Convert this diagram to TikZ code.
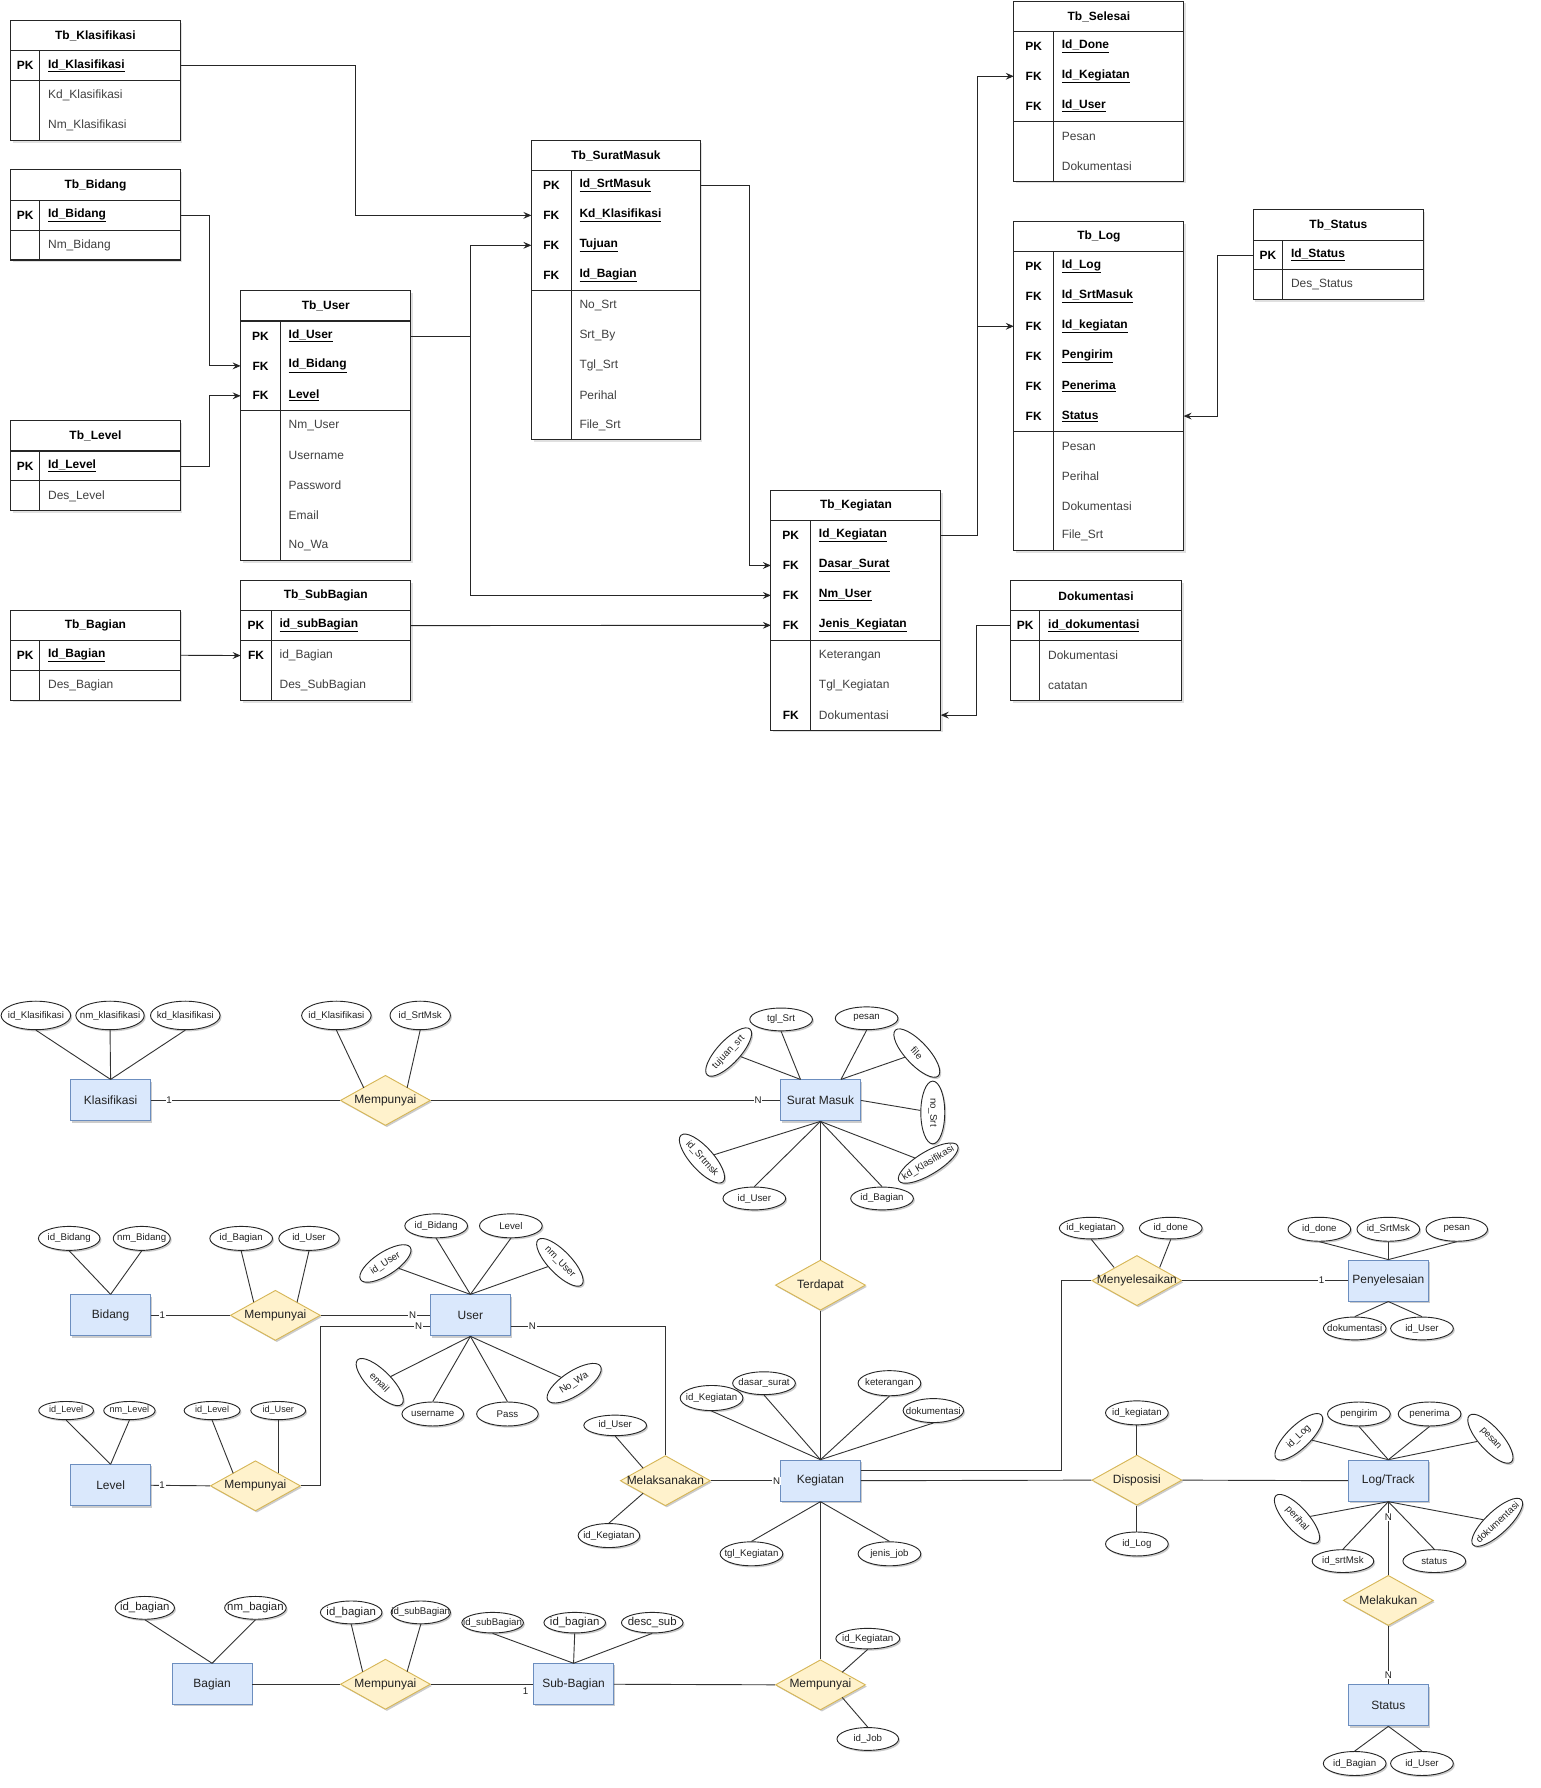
\documentclass[tikz,border=0pt]{standalone}
\usepackage{fontspec}
\setmainfont{Liberation Sans}
\usetikzlibrary{shapes.geometric,arrows.meta,calc,shadows}

\definecolor{entf}{HTML}{DAE8FC}
\definecolor{entb}{HTML}{6C8EBF}
\definecolor{relf}{HTML}{FFF2CC}
\definecolor{relb}{HTML}{D6B656}
\definecolor{txt}{HTML}{222222}

\newcommand{\setfs}[1]{\fontsize{#1}{#1}\selectfont}
\newcommand{\keyfield}[1]{\color{black}\textbf{\underline{#1}}}
\newcommand{\midtext}[1]{\makebox[0pt]{#1}}
\def\tbhead{26.5}
\def\tbrowh{26.25}

% database table: id, left, top, width, key column width, title, key rows, total rows, rows
% every row i gets the edge points (id-i-l) and (id-i-r) for the references
\newcommand{\dbtable}[9]{%
  \pgfmathsetmacro{\tbbot}{#3+\tbhead+#8*\tbrowh}%
  \pgfmathsetmacro{\tbsep}{#3+\tbhead+#7*\tbrowh}%
  \fill[black,opacity=0.12] (#2+2,#3+2) rectangle (#2+#4+2,\tbbot+2);
  \fill[white] (#2,#3) rectangle (#2+#4,\tbbot);
  \node[tbtitle, minimum width=#4, minimum height=\tbhead, anchor=north west] (#1) at (#2,#3) {#6};
  \foreach[count=\i] \tkey/\tfield in {#9}{
    \pgfmathsetmacro{\ry}{#3+\tbhead+(\i-0.5)*\tbrowh}
    \coordinate (#1-\i-l) at (#2,\ry);
    \coordinate (#1-\i-r) at (#2+#4,\ry);
    \node[tbkey] at (#2+#5/2,\ry) {\tkey};
    \node[tbfield, anchor=west] at (#2+#5+7,\ry) {\tfield};
  }
  \draw[tbline] (#2,#3) rectangle (#2+#4,\tbbot);
  \draw[tbline] (#2,#3+\tbhead) -- (#2+#4,#3+\tbhead);
  \draw[tbline] (#2,\tbsep) -- (#2+#4,\tbsep);
  \draw[tbline] (#2+#5,#3+\tbhead) -- (#2+#5,\tbbot);
}

\tikzset{
  tbline/.style={draw=black!85, line width=0.9pt},
  tbtitle/.style={inner sep=0, font=\setfs{10.5}\bfseries, text=black},
  tbkey/.style={inner sep=0, font=\setfs{10.5}\bfseries, text=black},
  tbfield/.style={inner sep=0, font=\setfs{10.5}, text=black!75},
  fkline/.style={draw=black!85, line width=0.8pt},
  fkarrow/.style={fkline, -{Stealth[length=7pt,width=6pt,inset=2.5pt]}},
  softshadow/.style={drop shadow={shadow xshift=1.3pt, shadow yshift=-1.5pt, opacity=0.2, fill=black}},
  ent/.style={rectangle, draw=entb, fill=entf, line width=0.8pt, minimum width=70pt, minimum height=36pt,
    inner sep=0, font=\setfs{10.5}, text=txt, softshadow},
  rel/.style={diamond, draw=relb, fill=relf, line width=0.8pt, minimum width=79pt, minimum height=44pt,
    inner sep=0, font=\setfs{10.5}, text=txt, softshadow},
  attr/.style={ellipse, draw=black!85, fill=white, line width=0.8pt, minimum width=55pt, minimum height=21pt,
    inner sep=0, font=\setfs{8.5}, text=txt, softshadow},
  er/.style={draw=black!80, line width=0.8pt},
  card/.style={fill=white, inner sep=0.6pt, font=\setfs{8.5}, text=txt},
}

\begin{document}
\begin{tikzpicture}[x=1pt, y=-1pt]
\fill[white] (0,0) rectangle (1351,1568);
\useasboundingbox (0,0) rectangle (1351,1568);

% ---------------- relational schema ----------------
\dbtable{klas}{9}{18}{149}{26}{Tb\_Klasifikasi}{1}{3}{PK/\keyfield{Id\_Klasifikasi}, {}/Kd\_Klasifikasi, {}/Nm\_Klasifikasi}
\dbtable{bid}{9}{149}{149}{26}{Tb\_Bidang}{1}{2}{PK/\keyfield{Id\_Bidang}, {}/Nm\_Bidang}
\dbtable{user}{211}{255}{149}{35}{Tb\_User}{3}{8}{PK/\keyfield{Id\_User}, FK/\keyfield{Id\_Bidang}, FK/\keyfield{Level}, {}/Nm\_User, {}/Username, {}/Password, {}/Email, {}/No\_Wa}
\dbtable{lev}{9}{369}{149}{26}{Tb\_Level}{1}{2}{PK/\keyfield{Id\_Level}, {}/Des\_Level}
\dbtable{sm}{466}{123}{148}{35}{Tb\_SuratMasuk}{4}{9}{PK/\keyfield{Id\_SrtMasuk}, FK/\keyfield{Kd\_Klasifikasi}, FK/\keyfield{Tujuan}, FK/\keyfield{Id\_Bagian}, {}/No\_Srt, {}/Srt\_By, {}/Tgl\_Srt, {}/Perihal, {}/File\_Srt}
\dbtable{keg}{676}{430}{149}{35}{Tb\_Kegiatan}{4}{7}{PK/\keyfield{Id\_Kegiatan}, FK/\keyfield{Dasar\_Surat}, FK/\keyfield{Nm\_User}, FK/\keyfield{Jenis\_Kegiatan}, {}/Keterangan, {}/Tgl\_Kegiatan, FK/Dokumentasi}
\dbtable{sel}{889}{1}{149}{35}{Tb\_Selesai}{3}{5}{PK/\keyfield{Id\_Done}, FK/\keyfield{Id\_Kegiatan}, FK/\keyfield{Id\_User}, {}/Pesan, {}/Dokumentasi}
\dbtable{log}{889}{194}{149}{35}{Tb\_Log}{6}{10}{PK/\keyfield{Id\_Log}, FK/\keyfield{Id\_SrtMasuk}, FK/\keyfield{Id\_kegiatan}, FK/\keyfield{Pengirim}, FK/\keyfield{Penerima}, FK/\keyfield{Status}, {}/Pesan, {}/Perihal, {}/Dokumentasi, {}/File\_Srt}
\dbtable{stat}{1099}{184}{149}{26}{Tb\_Status}{1}{2}{PK/\keyfield{Id\_Status}, {}/Des\_Status}
\dbtable{dok}{886}{509}{150}{26}{Dokumentasi}{1}{3}{PK/\keyfield{id\_dokumentasi}, {}/Dokumentasi, {}/catatan}
\dbtable{bag}{9}{535}{149}{26}{Tb\_Bagian}{1}{2}{PK/\keyfield{Id\_Bagian}, {}/Des\_Bagian}
\dbtable{sub}{211}{509}{149}{27}{Tb\_SubBagian}{1}{3}{PK/\keyfield{id\_subBagian}, FK/id\_Bagian, {}/Des\_SubBagian}

% foreign key references
\draw[fkarrow] (klas-1-r) -- ++(154,0) |- (sm-2-l);
\draw[fkarrow] (bid-1-r) -- ++(26,0) |- (user-2-l);
\draw[fkarrow] (lev-1-r) -- ++(26,0) |- (user-3-l);
\draw[fkline] (user-1-r) -- ++(53,0) coordinate (ujoin);
\draw[fkarrow] (ujoin) |- (sm-3-l);
\draw[fkarrow] (ujoin) |- (keg-3-l);
\draw[fkarrow] (sm-1-r) -- ++(43,0) |- (keg-2-l);
\draw[fkarrow] (sub-1-r) -- (keg-4-l);
\draw[fkarrow] (bag-1-r) -- (sub-2-l);
\draw[fkline] (keg-1-r) -- ++(32,0) coordinate (kjoin);
\draw[fkarrow] (kjoin) |- (sel-2-l);
\draw[fkarrow] (kjoin) |- (log-3-l);
\draw[fkarrow] (stat-1-l) -- ++(-31,0) |- (log-6-r);
\draw[fkarrow] (dok-1-l) -- ++(-30,0) |- (keg-7-r);

% ---------------- entity relationship diagram ----------------
% entities
\node[ent] (eKlas) at (97,965) {Klasifikasi};
\node[ent] (eSM) at (719.5,965) {Surat Masuk};
\node[ent] (eBid) at (97,1153.5) {Bidang};
\node[ent] (eUser) at (412.5,1153.5) {User};
\node[ent] (ePeny) at (1217.5,1123) {Penyelesaian};
\node[ent] (eLev) at (97,1302.5) {Level};
\node[ent] (eKeg) at (719.5,1298.5) {Kegiatan};
\node[ent] (eLog) at (1217.5,1298.5) {Log/Track};
\node[ent] (eBag) at (186,1477) {Bagian};
\node[ent] (eSub) at (503,1477) {Sub-Bagian};
\node[ent] (eStat) at (1217.5,1495.5) {Status};

% relationships
\node[rel] (rKlas) at (338,965) {\midtext{Mempunyai}};
\node[rel] (rTerd) at (719.5,1127) {\midtext{Terdapat}};
\node[rel] (rBid) at (241.5,1153.5) {\midtext{Mempunyai}};
\node[rel] (rLev) at (224,1303) {\midtext{Mempunyai}};
\node[rel] (rMeny) at (997,1123) {\midtext{Menyelesaikan}};
\node[rel] (rMel) at (583.5,1298.5) {\midtext{Melaksanakan}};
\node[rel] (rDisp) at (997,1298) {\midtext{Disposisi}};
\node[rel] (rMelk) at (1217.5,1403.5) {\midtext{Melakukan}};
\node[rel] (rBag) at (338,1477) {\midtext{Mempunyai}};
\node[rel] (rSub) at (719.5,1477.5) {\midtext{Mempunyai}};

% attributes: Klasifikasi and its relationship
\node[attr, minimum width=61pt, minimum height=25pt] (a1) at (31.5,890.5) {\midtext{id\_Klasifikasi}};
\node[attr, minimum width=60pt, minimum height=25pt] (a2) at (96.5,890.5) {\midtext{nm\_klasifikasi}};
\node[attr, minimum width=61pt, minimum height=25pt] (a3) at (162.5,890.5) {\midtext{kd\_klasifikasi}};
\node[attr, minimum width=61pt, minimum height=25pt] (a4) at (295,890.5) {\midtext{id\_Klasifikasi}};
\node[attr, minimum width=53pt, minimum height=25pt] (a5) at (368.5,890.5) {\midtext{id\_SrtMsk}};

% attributes: Surat Masuk
\node[attr, minimum height=20pt] (b1) at (685,894) {\midtext{tgl\_Srt}};
\node[attr, minimum height=20pt] (b2) at (760,893) {\midtext{pesan}};
\node[attr, minimum height=20pt, rotate=47] (b3) at (639,922.6) {\midtext{tujuan\_srt}};
\node[attr, minimum height=20pt, rotate=-47] (b4) at (804,923.5) {\midtext{file}};
\node[attr, rotate=-90] (b5) at (818,975.6) {\midtext{no\_Srt}};
\node[attr, minimum width=60pt, minimum height=20pt, rotate=31] (b6) at (814,1020) {\midtext{kd\_Klasifikasi}};
\node[attr, minimum height=20pt] (b7) at (773.5,1051) {\midtext{id\_Bagian}};
\node[attr, minimum height=20pt] (b8) at (661.5,1051) {\midtext{id\_User}};
\node[attr, minimum height=20pt, rotate=-48] (b9) at (615.6,1016) {\midtext{id\_Srtmsk}};

% attributes: Bidang and its relationship
\node[attr, minimum width=54pt] (c1) at (60.7,1086) {\midtext{id\_Bidang}};
\node[attr, minimum width=50pt] (c2) at (124.3,1086) {\midtext{nm\_Bidang}};
\node[attr] (c3) at (211.5,1086) {\midtext{id\_Bagian}};
\node[attr, minimum width=53pt] (c4) at (271,1086) {\midtext{id\_User}};

% attributes: User
\node[attr] (d1) at (382.5,1075) {\midtext{id\_Bidang}};
\node[attr] (d2) at (448,1075) {\midtext{Level}};
\node[attr, minimum width=52pt, minimum height=20pt, rotate=33] (d3) at (338,1108) {\midtext{id\_User}};
\node[attr, minimum height=20pt, rotate=-46] (d4) at (491,1107) {\midtext{nm\_User}};
\node[attr, minimum height=20pt, rotate=-45] (d5) at (333,1212) {\midtext{email}};
\node[attr, minimum width=54pt] (d6) at (379.5,1240) {\midtext{username}};
\node[attr, minimum width=54pt] (d7) at (445,1240) {\midtext{Pass}};
\node[attr, rotate=33] (d8) at (503.5,1213) {\midtext{No\_Wa}};

% attributes: Level and its relationship
\node[attr, minimum width=48pt, minimum height=16pt, font=\setfs{8}] (e1) at (58,1237) {\midtext{id\_Level}};
\node[attr, minimum width=45pt, minimum height=16pt, font=\setfs{8}] (e2) at (113.5,1237) {\midtext{nm\_Level}};
\node[attr, minimum width=49pt, minimum height=16pt, font=\setfs{8}] (e3) at (186,1237) {\midtext{id\_Level}};
\node[attr, minimum width=48pt, minimum height=16pt, font=\setfs{8}] (e4) at (244,1237) {\midtext{id\_User}};

% attributes: Kegiatan and Melaksanakan
\node[attr, minimum height=22pt] (f1) at (624,1226) {\midtext{id\_Kegiatan}};
\node[attr, minimum height=20pt] (f2) at (670,1213) {\midtext{dasar\_surat}};
\node[attr, minimum height=22pt] (f3) at (780,1213) {\midtext{keterangan}};
\node[attr, minimum width=53pt] (f4) at (818.5,1237) {\midtext{dokumentasi}};
\node[attr] (f5) at (659,1362.6) {\midtext{tgl\_Kegiatan}};
\node[attr] (f6) at (780,1362.6) {\midtext{jenis\_job}};
\node[attr, minimum height=18pt] (f7) at (539.5,1250) {\midtext{id\_User}};
\node[attr, minimum width=54pt] (f8) at (534,1346.6) {\midtext{id\_Kegiatan}};

% attributes: Menyelesaikan and Penyelesaian
\node[attr, minimum width=56pt, minimum height=19pt] (g1) at (957,1077) {\midtext{id\_kegiatan}};
\node[attr, minimum height=19pt] (g2) at (1026.7,1077) {\midtext{id\_done}};
\node[attr] (h1) at (1157,1078) {\midtext{id\_done}};
\node[attr] (h2) at (1217.5,1078) {\midtext{id\_SrtMsk}};
\node[attr, minimum width=54pt] (h3) at (1277.5,1078) {\midtext{pesan}};
\node[attr, minimum height=20pt] (h4) at (1188,1165) {\midtext{dokumentasi}};
\node[attr, minimum height=20pt] (h5) at (1247,1165) {\midtext{id\_User}};

% attributes: Disposisi and Log/Track
\node[attr] (i1) at (997,1239) {\midtext{id\_kegiatan}};
\node[attr] (i2) at (997,1354) {\midtext{id\_Log}};
\node[attr, minimum height=20pt, rotate=44] (j1) at (1139,1260) {\midtext{id\_Log}};
\node[attr] (j2) at (1191.7,1240) {\midtext{pengirim}};
\node[attr] (j3) at (1253.7,1240) {\midtext{penerima}};
\node[attr, minimum height=20pt, rotate=-48] (j4) at (1307,1261.7) {\midtext{pesan}};
\node[attr, minimum height=20pt, rotate=-48] (j5) at (1137.4,1332) {\midtext{perihal}};
\node[attr, minimum width=54pt, minimum height=20pt] (j6) at (1177.7,1369) {\midtext{id\_srtMsk}};
\node[attr, minimum height=20pt] (j7) at (1257.8,1369) {\midtext{status}};
\node[attr, minimum width=58pt, minimum height=20pt, rotate=43] (j8) at (1313,1335) {\midtext{dokumentasi}};

% attributes: Status
\node[attr] (k1) at (1188,1546.5) {\midtext{id\_Bagian}};
\node[attr] (k2) at (1247,1546.5) {\midtext{id\_User}};

% attributes: Bagian, Sub-Bagian and their relationships
\node[attr, minimum width=52pt, minimum height=20pt, font=\setfs{10}] (l1) at (127,1410) {\midtext{id\_bagian}};
\node[attr, minimum width=54pt, minimum height=20pt, font=\setfs{10}] (l2) at (224,1410) {\midtext{nm\_bagian}};
\node[attr, minimum width=54pt, minimum height=20pt, font=\setfs{10}] (l3) at (308,1414) {\midtext{id\_bagian}};
\node[attr, minimum width=52pt, minimum height=20pt] (l4) at (369,1414) {\midtext{id\_subBagian}};
\node[attr, minimum width=54pt, minimum height=18pt] (m1) at (432,1423) {\midtext{id\_subBagian}};
\node[attr, minimum width=54pt, minimum height=18pt, font=\setfs{10}] (m2) at (504,1423) {\midtext{id\_bagian}};
\node[attr, minimum width=54pt, minimum height=18pt, font=\setfs{10}] (m3) at (572,1423) {\midtext{desc\_sub}};
\node[attr, minimum width=56pt, minimum height=18pt] (m4) at (761,1437) {\midtext{id\_Kegiatan}};
\node[attr, minimum width=54pt, minimum height=20pt] (m5) at (761,1525) {\midtext{id\_Job}};

% attribute links
\foreach \a in {a1,a2,a3} \draw[er] (\a.south) -- (eKlas.north);
\draw[er] (a4.south) -- ($(rKlas)+(-19,-11)$);
\draw[er] (a5.south) -- ($(rKlas)+(19,-11)$);

\draw[er] (b1.south) -- ($(eSM.north)+(-17.5,0)$);
\draw[er] (b3) -- ($(eSM.north)+(-17.5,0)$);
\draw[er] (b2.south) -- ($(eSM.north)+(18,0)$);
\draw[er] (b4) -- ($(eSM.north)+(18,0)$);
\draw[er] (eSM.east) -- (b5);
\draw[er] (eSM.south) -- (b6);
\draw[er] (eSM.south) -- (b7.north);
\draw[er] (eSM.south) -- (b8.north);
\draw[er] (eSM.south) -- (b9);

\foreach \a in {c1,c2} \draw[er] (\a.south) -- (eBid.north);
\draw[er] (c3.south) -- ($(rBid)+(-19,-11.5)$);
\draw[er] (c4.south) -- ($(rBid)+(19,-11.5)$);

\foreach \a in {d1,d2} \draw[er] (\a.south) -- (eUser.north);
\foreach \a in {d3,d4} \draw[er] (\a) -- (eUser.north);
\foreach \a in {d6,d7} \draw[er] (\a.north) -- (eUser.south);
\foreach \a in {d5,d8} \draw[er] (\a) -- (eUser.south);

\foreach \a in {e1,e2} \draw[er] (\a.south) -- (eLev.north);
\draw[er] (e3.south) -- ($(rLev)+(-19.5,-11)$);
\draw[er] (e4.south) -- ($(rLev)+(20,-11)$);

\foreach \a in {f1,f2,f3,f4} \draw[er] (\a.south) -- (eKeg.north);
\foreach \a in {f5,f6} \draw[er] (\a.north) -- (eKeg.south);
\draw[er] (f7.south) -- ($(rMel)+(-19.5,-11)$);
\draw[er] (f8.north) -- ($(rMel)+(-19.5,11)$);

\draw[er] (g1.south) -- ($(rMeny)+(-20,-11.5)$);
\draw[er] (g2.south) -- ($(rMeny)+(20,-11.5)$);
\foreach \a in {h1,h2,h3} \draw[er] (\a.south) -- (ePeny.north);
\foreach \a in {h4,h5} \draw[er] (\a.north) -- (ePeny.south);

\draw[er] (i1.south) -- (rDisp.north);
\draw[er] (i2.north) -- (rDisp.south);
\foreach \a in {j2,j3} \draw[er] (\a.south) -- (eLog.north);
\foreach \a in {j1,j4} \draw[er] (\a) -- (eLog.north);
\foreach \a in {j6,j7} \draw[er] (\a.north) -- (eLog.south);
\foreach \a in {j5,j8} \draw[er] (\a) -- (eLog.south);

\foreach \a in {k1,k2} \draw[er] (\a.north) -- (eStat.south);

\foreach \a in {l1,l2} \draw[er] (\a.south) -- (eBag.north);
\draw[er] (l3.south) -- ($(rBag)+(-20,-11)$);
\draw[er] (l4.south) -- ($(rBag)+(19,-11)$);
\foreach \a in {m1,m2,m3} \draw[er] (\a.south) -- (eSub.north);
\draw[er] (m4.south) -- ($(rSub)+(19,-11)$);
\draw[er] (m5.north) -- ($(rSub)+(19,11)$);

% relationship links with cardinalities
\draw[er] (eKlas.east) -- node[card, pos=0.096] {1} (rKlas.west);
\draw[er] (rKlas.east) -- node[card, pos=0.937] {N} (eSM.west);
\draw[er] (eSM.south) -- (rTerd.north);
\draw[er] (rTerd.south) -- (eKeg.north);
\draw[er] (eBid.east) -- node[card, pos=0.143] {1} (rBid.west);
\draw[er] (rBid.east) -- node[card, pos=0.84] {N} (eUser.west);
\draw[er] (eLev.east) -- node[card, pos=0.19] {1} (rLev.west);
\draw[er] (rLev.east) -- ++(17,0) |- ($(eUser.west)+(0,9.5)$);
\node[card] at ($(eUser.west)+(-10,9.5)$) {N};
\draw[er] ($(eUser.east)+(0,9.5)$) -| (rMel.north);
\node[card] at ($(eUser.east)+(19,9.5)$) {N};
\draw[er] (rMel.east) -- (eKeg.west);
\node[card] at ($(eKeg.west)+(-3,0)$) {N};
\draw[er] ($(eKeg.east)+(0,-9)$) -- ++(176,0) |- (rMeny.west);
\draw[er] (rMeny.east) -- node[card, pos=0.84] {1} (ePeny.west);
\draw[er] (eKeg.east) -- (rDisp.west);
\draw[er] (rDisp.east) -- (eLog.west);
\draw[er] (eLog.south) -- node[card, pos=0.215] {N} (rMelk.north);
\draw[er] (rMelk.south) -- node[card, pos=0.84] {N} (eStat.north);
\draw[er] (eKeg.south) -- (rSub.north);
\draw[er] (eBag.east) -- (rBag.west);
\draw[er] (rBag.east) -- (eSub.west);
\node[card] at (461,1483) {1};
\draw[er] (eSub.east) -- (rSub.west);
\end{tikzpicture}
\end{document}
